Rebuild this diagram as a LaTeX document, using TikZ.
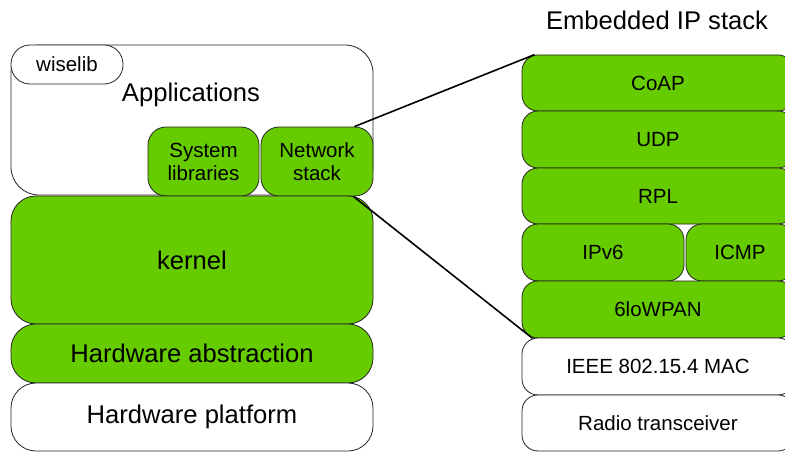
\documentclass[tikz,border=0pt]{standalone}
\usepackage{fontspec}
\setmainfont{Liberation Sans}
\definecolor{leaf}{RGB}{102,204,0}
\newcommand{\bigtxt}{\fontsize{25.6}{28}\selectfont}
\newcommand{\smalltxt}{\fontsize{20.5}{23}\selectfont}
\begin{document}
\begin{tikzpicture}[x=1pt,y=-1pt,
  layer/.style={draw=black!85,line width=0.8pt,rectangle,inner sep=0pt,align=center,fill=white},
  lw/.style={minimum width=#1},
  lh/.style={minimum height=#1},
  grn/.style={fill=leaf}]
\useasboundingbox (0,0) rectangle (785,452);
% left column
\node[layer,rounded corners=28,lw=362,lh=150] (app) at (192,120) {};
\node[layer,rounded corners=19,lw=112,lh=39,font=\smalltxt] (wise) at (67,64.5) {wiselib};
\node[font=\bigtxt] (apptxt) at (191,95) {Applications};
\node[layer,grn,rounded corners=18,lw=111,lh=69,font=\smalltxt] (sys) at (203.5,161.5) {System\\libraries};
\node[layer,grn,rounded corners=18,lw=112,lh=69,font=\smalltxt] (net) at (317,161.5) {Network\\stack};
\node[layer,grn,rounded corners=25,lw=362,lh=128,font=\bigtxt] (kern) at (192,260) {kernel};
\node[layer,grn,rounded corners=25,lw=362,lh=59,font=\bigtxt] (hal) at (192,353.5) {Hardware abstraction};
\node[layer,rounded corners=25,lw=362,lh=68,font=\bigtxt] (hw) at (192,417) {Hardware platform};
%
% right column
\node[font=\bigtxt] (title) at (657,20) {Embedded IP stack};
\node[layer,grn,rounded corners=16,lw=272,lh=56,font=\smalltxt] (coap) at (658,83) {CoAP};
\node[layer,grn,rounded corners=16,lw=272,lh=57,font=\smalltxt] (udp) at (658,139.5) {UDP};
\node[layer,grn,rounded corners=16,lw=272,lh=56,font=\smalltxt] (rpl) at (658,196) {RPL};
\node[layer,grn,rounded corners=16,lw=162,lh=57,font=\smalltxt] (ipv6) at (603,252.5) {IPv6};
\node[layer,grn,rounded corners=16,lw=108,lh=57,font=\smalltxt] (icmp) at (740,252.5) {ICMP};
\node[layer,grn,rounded corners=16,lw=272,lh=57,font=\smalltxt] (lowpan) at (658,309.5) {6loWPAN};
\node[layer,rounded corners=16,lw=272,lh=57,font=\smalltxt] (mac) at (658,366.5) {IEEE 802.15.4 MAC};
\node[layer,rounded corners=16,lw=272,lh=56,font=\smalltxt] (radio) at (658,423) {Radio transceiver};
%zoom lines
\draw[line width=1.6pt] ([xshift=-19pt]net.north east)--([xshift=13pt]coap.north west);
\draw[line width=1.6pt] ([xshift=-20pt]net.south east)--([xshift=11pt]lowpan.south west);
\end{tikzpicture}
\end{document}
